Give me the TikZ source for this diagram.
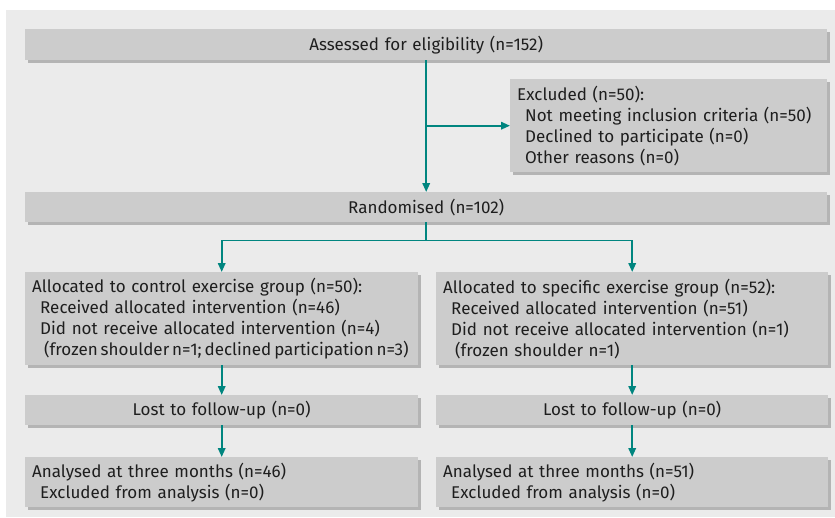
\documentclass[tikz,border=0pt]{standalone}
\usepackage{fontspec}
\setmainfont{Fira Sans}
\usetikzlibrary{arrows.meta,shadows}
\definecolor{bgGray}{HTML}{EBEBEB}
\definecolor{boxGray}{HTML}{CCCCCC}
\definecolor{shadowGray}{HTML}{B4B4B4}
\definecolor{flowTeal}{HTML}{00857F}
\definecolor{textDark}{HTML}{1E1E1E}
\newcommand{\indA}{\hspace*{8pt}}
\newcommand{\indB}{\hspace*{12pt}}

\begin{document}
\begin{tikzpicture}[x=1pt,y=-1pt,>=stealth,
    box/.style={fill=boxGray, anchor=north west, inner xsep=7pt, inner ysep=0pt,
        text=textDark, font=\fontsize{17}{21}\selectfont,
        drop shadow={shadow xshift=3pt,shadow yshift=-3pt,fill=shadowGray,opacity=1}},
    flow/.style={draw=flowTeal, line width=1.8pt, -{Triangle[length=9pt,width=7.5pt]}}]

        % Page and grey panel
        \useasboundingbox (0,0) rectangle (835,517);
        \fill[bgGray] (6,10) rectangle (835,517);

        % Top part
        \node[box, minimum height=31pt, text width=788pt, align=center] (assess) at (25,29)
            {Assessed for eligibility (n=152)};
        \node[box, minimum height=93pt, text width=303pt, align=left] (excl) at (510,79)
            {Excluded (n=50):\\
             \indA Not meeting inclusion criteria (n=50)\\
             \indA Declined to participate (n=0)\\
             \indA Other reasons (n=0)};
        \node[box, minimum height=30pt, text width=788pt, align=center] (rand) at (25,192)
            {Randomised (n=102)};

        % Control arm (left)
        \node[box, minimum height=93pt, text width=379pt, align=left] (ctrl) at (25,272)
            {Allocated to control exercise group (n=50):\\
             \indA Received allocated intervention (n=46)\\
             \indA Did not receive allocated intervention (n=4)\\
             \indB {\spaceskip=0.17em\relax (frozen shoulder n=1; declined participation n=3)}};
        \node[box, minimum height=30pt, text width=379pt, align=center] (lostC) at (25,395)
            {Lost to follow-up (n=0)};
        \node[box, minimum height=50pt, text width=379pt, align=left] (anaC) at (25,457)
            {Analysed at three months (n=46)\\
             \indA Excluded from analysis (n=0)};

        % Specific arm (right)
        \node[box, minimum height=93pt, text width=378pt, align=left] (spec) at (436,272)
            {Allocated to specific exercise group (n=52):\\
             \indA Received allocated intervention (n=51)\\
             \indA Did not receive allocated intervention (n=1)\\
             \indB (frozen shoulder n=1)};
        \node[box, minimum height=30pt, text width=378pt, align=center] (lostS) at (436,395)
            {Lost to follow-up (n=0)};
        \node[box, minimum height=50pt, text width=378pt, align=left] (anaS) at (436,457)
            {Analysed at three months (n=51)\\
             \indA Excluded from analysis (n=0)};

        % Connectors
        \draw[flow] (assess.south) -- (rand.north);
        \draw[flow] (assess.south |- excl.west) -- (excl.west);
        \coordinate (split) at ([yshift=-18pt]rand.south);
        \draw[flow] (rand.south) -- (split) -| (ctrl.north);
        \draw[flow] (split) -| (spec.north);
        \draw[flow] (ctrl.south) -- (lostC.north);
        \draw[flow] (lostC.south) -- (anaC.north);
        \draw[flow] (spec.south) -- (lostS.north);
        \draw[flow] (lostS.south) -- (anaS.north);

\end{tikzpicture}
\end{document}
